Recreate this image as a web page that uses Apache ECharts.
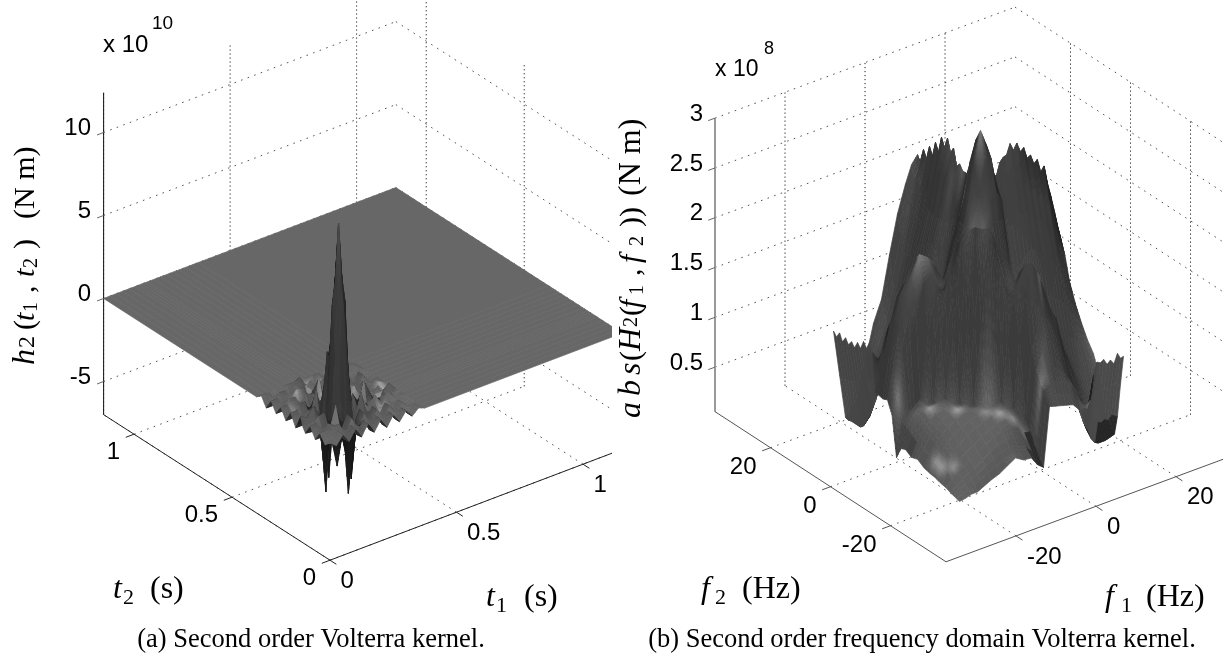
<!DOCTYPE html>
<html><head><meta charset="utf-8">
<style>html,body{margin:0;padding:0;background:#fff}#c{width:1223px;height:661px}canvas{filter:blur(.4px)}</style>
<script src="https://cdn.jsdelivr.net/npm/echarts@6/dist/echarts.min.js"></script>
</head><body><div id="c"></div>
<script>
// ---------- panel (a) values ----------
const t1Ticks=[0,0.5,1];
const t2Ticks=[0,0.5,1];
const h2Ticks=[-5,0,5,10];
const t1Grid=[0,.025,.05,.075,.1,.125,.1375,.15,.1625,.175,.2,.225,.25,.275,.3,.325,.35,.375,1.155];
const t2Grid=[0,.025,.05,.075,.1,.125,.1375,.15,.1625,.175,.2,.225,.25,.275,.3,.325,.35,.375,1.155];
const h2Values=[
[.1,-.25,.25,-.3,.3,-.3,.05,.3,.05,-.3,.3,-.3,.3,-.25,.25,-.2,.15,0,0],
[-.25,.1,.3,-.3,.35,-.35,.05,.35,.05,-.35,.35,-.3,.3,-.25,.25,-.2,.15,0,0],
[.25,.3,.1,.35,-.4,.4,0,-.5,0,.4,-.4,.35,-.3,.3,-.25,.2,-.15,0,0],
[-.3,-.3,.35,.1,-.45,.5,0,-.7,0,.5,-.45,.4,-.35,.3,-.25,.2,-.15,0,0],
[.3,.35,-.4,-.45,1,-1,-2,-4.6,-2,-1,1.2,-.7,.5,-.45,.35,-.3,.2,0,0],
[-.3,-.35,.4,.5,-1,-3,3,6.5,3.5,1,-1,.5,-.4,.4,-.3,.3,-.2,0,0],
[-.05,0,0,0,-2,3,6,8,6,3,-2,0,0,0,0,0,0,0,0],
[.5,.3,.8,.2,-4.6,6.5,8,11.3,8,6.5,-4.4,-.3,1.2,.3,-.8,.2,.5,0,0],
[.05,0,0,0,-2,3,6,8,6,3,-2,0,0,0,0,0,0,0,0],
[-.35,-.35,.4,.5,-1,3.5,3,6.5,3,1,-.8,.4,-.4,.4,-.3,.3,-.2,0,0],
[.35,.35,-.4,-.45,1.2,-1,-2,-4.4,-2,-1,1,-.7,.5,-.45,.35,-.3,.2,0,0],
[-.3,-.3,.35,.4,-.7,-.5,0,-.3,0,.4,-.7,.1,.4,-.35,.3,-.25,.15,0,0],
[.3,.3,-.3,-.35,.5,.4,.2,1.2,.2,-.4,.5,.4,.15,.4,-.4,.35,-.25,0,0],
[-.25,-.25,.3,.3,-.45,-.4,0,.3,0,.4,-.45,-.35,.4,.15,-.4,.35,-.25,0,0],
[.3,.3,-.3,-.3,.4,.35,0,-.8,0,-.35,.4,.35,-.35,-.35,.15,-.35,.25,0,0],
[-.3,-.3,.3,.3,-.35,-.35,0,.3,0,.35,-.35,-.3,.3,.3,-.35,.15,.25,0,0],
[.25,.25,-.25,-.25,.3,.3,0,.5,0,-.3,.3,.25,-.25,-.25,.25,.25,.15,0,0],
[0,0,0,0,0,0,0,0,0,0,0,0,0,0,0,0,0,0,0],
[0,0,0,0,0,0,0,0,0,0,0,0,0,0,0,0,0,0,0]];
// glints seen among the ripples: [column, row, extra grey]
const h2Glints=[[9,16,180],[11,15,170],[16,9,170],[16,10,150],[4,14,160],[13,4,150],[7,11,170],[12,10,150],[2,12,130],[14,7,130]];
// ---------- panel (b) values ----------
const f1Ticks=[-20,0,20];
const f2Ticks=[-20,0,20];
const absTicks=[0.5,1,1.5,2,2.5,3];
const f1Grid=[-21,-19.5,-18,-16.5,-15,-13,-11,-9,-7,-5,-3,-1.5,0,1.5,3,4,4.85,5.7,6.55,7.4,8.25,9.1,9.95,10.8,11.65,12.5,13.35,14.2,15.05,15.9,16.75,17.6,18.5,19.25,20];
const f2Grid=[-21,-20,-19,-18,-16.5,-15,-13,-11,-9,-7,-5,-3,-1.5,0,1.5,3,4.5,6,7,8,9,10,11,12,13,14,15,16,17,18,19,20,21];
const absValues=[
[.07,.08,.1,.1,.13,.17,.2,.25,.3,.25,.24,.15,.1,.69,.67,.66,.65,.64,.63,.62,.58,.54,.55,.55,.6,.84,.96,.94,.96,.9,.93,.88,.97,.91,.92],
[.08,.11,.13,.15,.18,.22,.26,.3,.32,.3,.27,.2,.14,.75,.75,.75,.74,.73,.72,.7,.68,.62,.6,.55,.5,.6,.66,.65,.66,.62,.64,.61,.67,.63,.62],
[.09,.13,.16,.19,.22,.27,.31,.35,.37,.35,.31,.25,.2,.8,.85,.86,.85,.84,.83,.8,.78,.72,.66,.58,.5,.42,.38,.32,.3,.28,.3,.28,.32,.3,.28],
[.1,.15,.19,.23,.26,.31,.36,.4,.42,.41,.37,.3,.26,.85,.95,1,.98,.95,.92,.88,.82,.74,.66,.55,.45,.32,.22,.12,.07,.05,.05,.05,.06,.07,.08],
[.12,.18,.23,.27,.31,.36,.41,.45,.48,.48,.45,.38,.37,.95,1.1,1.25,1.22,1.18,1.12,1.05,.95,.85,.75,.62,.5,.38,.27,.18,.12,.1,.09,.09,.1,.1,.11],
[.13,.2,.26,.31,.35,.4,.45,.49,.52,.53,.52,.48,.45,1.15,1.3,1.45,1.42,1.37,1.3,1.22,1.12,1.02,.9,.78,.66,.54,.42,.3,.22,.18,.16,.16,.18,.19,.2],
[.15,.24,.31,.36,.4,.46,.5,.53,.55,.57,.56,.56,1.25,1.7,1.96,1.87,1.8,1.69,1.58,1.46,1.38,1.31,1.15,1.01,.9,.8,.7,.6,.52,.45,.42,.4,.44,.5,.55],
[.16,.26,.34,.4,.45,.5,.54,.56,.57,.58,.6,1.2,1.64,1.77,1.9,1.78,1.75,1.65,1.55,1.42,1.35,1.25,1.18,1.08,1,.92,.84,.78,.72,.68,.66,.66,.7,.72,.75],
[.18,.28,.37,.44,.49,.53,.56,.58,.58,.56,1.2,1.87,1.6,1.6,1.78,1.6,1.55,1.48,1.42,1.38,1.34,1.3,1.27,1.2,1.16,1.1,1.05,1,.97,.93,.9,.88,.87,.86,.85],
[.22,.3,.4,.47,.52,.55,.57,.58,.55,1.3,2.15,2.05,1.75,1.65,1.6,1.55,1.5,1.45,1.42,1.42,1.42,1.42,1.42,1.4,1.38,1.35,1.32,1.3,1.27,1.22,1.18,1.12,1.06,1.02,.98],
[.2,.33,.43,.5,.54,.57,.58,.56,1.3,2.27,2.22,2.2,2.05,1.9,1.8,1.7,1.7,1.72,1.74,1.8,1.82,1.84,1.82,1.8,1.76,1.74,1.7,1.66,1.6,1.55,1.48,1.38,1.28,1.2,1.13],
[.24,.36,.47,.54,.57,.58,.6,1.2,2.15,2.2,2.1,2.2,2.4,2.5,2.4,2,2.05,2.1,2.12,2.2,2.16,2.2,2.12,2.15,2.05,2.08,2,2,1.9,1.9,1.75,1.65,1.52,1.42,1.32],
[.22,.4,.5,.54,.56,.56,1.2,1.87,2.05,2.2,2.2,2.45,2.75,2.8,2.45,2.3,2.38,2.42,2.42,2.52,2.45,2.5,2.4,2.44,2.32,2.34,2.24,2.26,2.12,2.17,1.98,1.86,1.72,1.62,1.55],
[.1,.42,.5,.55,.6,1.25,1.64,1.6,1.75,2.05,2.4,2.75,3.07,2.9,2.58,2.56,2.68,2.72,2.73,2.83,2.75,2.81,2.71,2.74,2.62,2.64,2.54,2.57,2.43,2.48,2.29,2.15,1.98,1.83,1.7],
[.5,.65,.9,1.2,1.4,1.7,1.77,1.6,1.65,1.9,2.4,2.75,2.95,2.7,2.3,2.2,2.3,2.3,2.35,2.4,2.35,2.4,2.3,2.3,2.2,2.2,2.1,2.1,2,2,1.9,1.8,1.6,1.5,1.4],
[.62,.95,1.3,1.55,1.75,1.96,1.9,1.78,1.6,1.8,2.2,2.4,2.72,2.5,2.1,1.9,1.95,2,2,2,2,2,1.95,1.9,1.85,1.8,1.75,1.7,1.65,1.6,1.5,1.4,1.3,1.2,1.1],
[.6,1,1.35,1.6,1.72,1.87,1.78,1.55,1.5,1.7,2,2.3,2.55,2.2,1.9],
[.61,1,1.3,1.52,1.6,1.7,1.6,1.45,1.35,1.45,1.85,2.2,2.55,2.2,1.9],
[.62,1,1.2,1.35,1.4,1.45,1.4,1.35,1.3,1.4,1.85,2.3,2.6,2.2,1.9],
[1,.9,.85,.98,1.12,1.38,1.35,1.34,1.42,1.82,2.16,2.42,2.55,2.2,1.9],
[1.08,.8,.7,.87,1.02,1.31,1.25,1.3,1.42,1.84,2.2,2.5,2.72,2.3,1.9],
[1,.7,.55,.75,.9,1.15,1.18,1.27,1.42,1.82,2.12,2.42,2.65,2.3,1.9],
[1.05,.66,.45,.62,.78,1.01,1.08,1.2,1.4,1.8,2.15,2.5,2.78,2.35,1.9],
[.96,.6,.32,.48,.66,.9,1,1.16,1.38,1.76,2.05,2.38,2.66,2.3,1.9],
[1,.6,.25,.35,.54,.8,.92,1.1,1.35,1.74,2.08,2.42,2.75,2.3,1.9],
[.93,.55,.15,.25,.42,.7,.84,1.05,1.32,1.7,2,2.28,2.58,2.2,1.85],
[.97,.55,.08,.15,.3,.6,.78,1,1.3,1.66,2,2.34,2.66,2.2,1.85],
[.92,.52,.05,.1,.22,.52,.72,.97,1.27,1.6,1.9,2.2,2.5,2.1,1.8],
[.97,.52,.05,.09,.18,.45,.68,.93,1.22,1.55,1.9,2.26,2.58,2.1,1.8],
[.91,.5,.05,.09,.16,.42,.66,.9,1.18,1.55,1.9,2.14,2.43,2.1,1.8],
[.98,.5,.05,.1,.16,.4,.66,.88,1.2,1.55,1.95,2.3,2.51,2.1,1.8],
[.92,.48,.04,.1,.18,.45,.72,.98,1.3,1.7,2,2.2,2.34,2.1,1.8],
[.96,.5,.05,.11,.2,.55,.89,1.1,1.52,1.9,2.17,2.34,2.42,2.2,1.8]];
// glints seen on the spectrum surface: [column, row, extra grey]
const absGlints=[[4,11,80],[6,9,90],[9,6,90],[8,7,60],[10,5,70],[11,4,50],[1,6,90],[1,7,80],[2,5,70],[1,14,70],[13,3,70],[6,15,40],[5,15,25],[16,6,50],[9,8,50]];
// dark shadowed cells: [first col, last col, first row, last row, grey]
const absShadows=[[11,11,0,3,42],[10,10,0,1,48],[12,12,0,1,62],[0,0,10,12,66]];

// ---------- view of each 3-D box: plot units are page pixels of the panel's grid ----------
const viewA={gridIndex:0,cx:330,cy:444,e1:[253,-96],e2:[-196,-126],ez:-16.6,
  r1:[0,1.155],r2:[0,1.155],rz:[-7,12.4],x1:t1Grid,x2:t2Grid,z:h2Values,
  t1:t1Ticks,t2:t2Ticks,tz:h2Ticks,axisZ:{stroke:'#111',lineWidth:1},floor:'#222',
  zLabelX:91,off2:[-14,18],off1:[10.5,21],mix:.6,gain:1,glints:h2Glints,shadows:[],
  under:(s)=>s*.6};
const viewB={gridIndex:1,cx:980.5,cy:436.5,e1:[4,-1.48],e2:[-3,-1.95],ez:-99.6,
  r1:[-37.5,37.5],r2:[-38.5,38.5],rz:[.053,3],x1:f1Grid,x2:f2Grid,z:absValues,
  t1:f1Ticks,t2:f2Ticks,tz:absTicks,axisZ:{stroke:'#999',lineWidth:2},floor:'#555',
  zLabelX:703,off2:[-14,20],off1:[11,21],mix:.2,gain:.92,glints:absGlints,shadows:absShadows,
  under:(s,mz)=>mz<.2?42:s+42};
function proj(v,a,b,z){return [v.cx+v.e1[0]*a+v.e2[0]*b, v.cy+v.e1[1]*a+v.e2[1]*b+v.ez*z];}

// lighting: each grid vertex gets a grey from its normal, colours are blended across a cell
const L=[-.2,-.28,.94], H=[-.6,-.62,.5];
function lit(n){
  const dl=Math.abs(n[0]*L[0]+n[1]*L[1]+n[2]*L[2]),dh=Math.abs(n[0]*H[0]+n[1]*H[1]+n[2]*H[2]);
  return 28+80*dl+110*Math.pow(dh,60);
}
function vertexShades(v){
  const R1=v.r1[1]-v.r1[0],R2=v.r2[1]-v.r2[0],Rz=(v.rz[1]-v.rz[0])/.8,out=[];
  for(let j=0;j<v.z.length;j++){
    const row=v.z[j],r=[];
    for(let i=0;i<row.length;i++){
      const il=Math.max(i-1,0),ir=Math.min(i+1,row.length-1);
      const a=(row[ir]-row[il])/(v.x1[ir]-v.x1[il])*R1/Rz;
      const jl=Math.max(j-1,0);let jr=Math.min(j+1,v.z.length-1);
      if(v.z[jr][i]===undefined) jr=j;
      const b=(v.z[jr][i]-v.z[jl][i])/((v.x2[jr]-v.x2[jl])||1)*R2/Rz;
      const m=Math.hypot(a,b,1);
      r.push(lit([-a/m,-b/m,1/m]));
    }
    out.push(r);
  }
  v.glints.forEach(g=>{out[g[1]][g[0]]+=g[2];});
  return out;
}
viewA.s=vertexShades(viewA);viewB.s=vertexShades(viewB);
function faceShade(v,i,j){
  const R1=v.r1[1]-v.r1[0],R2=v.r2[1]-v.r2[0],Rz=(v.rz[1]-v.rz[0])/.8;
  const pt=(c,r)=>[v.x1[c]/R1,v.x2[r]/R2,v.z[r][c]/Rz];
  const a=pt(i,j),b=pt(i+1,j),c=pt(i+1,j+1),d=pt(i,j+1);
  const p=[c[0]-a[0],c[1]-a[1],c[2]-a[2]],q=[d[0]-b[0],d[1]-b[1],d[2]-b[2]];
  const n=[p[1]*q[2]-p[2]*q[1],p[2]*q[0]-p[0]*q[2],p[0]*q[1]-p[1]*q[0]];
  const m=Math.hypot(n[0],n[1],n[2])||1;
  return lit([n[0]/m,n[1]/m,n[2]/m]);
}
function quads(v){
  const out=[];
  for(let j=0;j<v.x2.length-1;j++){
    const w=Math.min(v.z[j].length,v.z[j+1].length);
    for(let i=0;i<w-1;i++){
      const d=v.e1[1]*(v.x1[i]+v.x1[i+1])+v.e2[1]*(v.x2[j]+v.x2[j+1]);
      out.push({value:[i,j],d:d});
    }
  }
  out.sort((a,b)=>a.d-b.d);
  return out.map(o=>o.value);
}
function surfaceSeries(v){
  return {type:'custom',coordinateSystem:'cartesian2d',xAxisIndex:v.gridIndex,yAxisIndex:v.gridIndex,
    clip:true,silent:true,animation:false,progressive:0,z:3,data:quads(v),
    renderItem:function(p,api){
      const i=api.value(0),j=api.value(1);
      const C=[[i,j],[i+1,j],[i+1,j+1],[i,j+1]];
      const P=C.map(o=>api.coord(proj(v,v.x1[o[0]],v.x2[o[1]],v.z[o[1]][o[0]])));
      const S=C.map(o=>v.s[o[1]][o[0]]);
      const mz=C.reduce((t,o)=>t+v.z[o[1]][o[0]],0)/4;
      let area=0;for(let k=0;k<4;k++){const a=P[k],b=P[(k+1)%4];area+=a[0]*b[1]-b[0]*a[1];}
      const face=faceShade(v,i,j);
      const shadow=v.shadows.find(d=>i>=d[0]&&i<=d[1]&&j>=d[2]&&j<=d[3]);
      const rng=Math.max.apply(null,S)-Math.min.apply(null,S);
      const n=Math.max(1,Math.min(5,Math.ceil(rng/7)));
      const kids=[];
      const at=(u,w)=>[(1-u)*(1-w)*P[0][0]+u*(1-w)*P[1][0]+u*w*P[2][0]+(1-u)*w*P[3][0],
                       (1-u)*(1-w)*P[0][1]+u*(1-w)*P[1][1]+u*w*P[2][1]+(1-u)*w*P[3][1]];
      for(let b=0;b<n;b++)for(let a=0;a<n;a++){
        const u=(a+.5)/n,w=(b+.5)/n;
        let s=(1-v.mix)*((1-u)*(1-w)*S[0]+u*(1-w)*S[1]+u*w*S[2]+(1-u)*w*S[3])+v.mix*face;
        if(area>0) s=v.under(s,mz);
        s*=v.gain;
        if(shadow) s=shadow[4];
        s=Math.max(20,Math.min(235,Math.round(s)));
        const f='rgb('+s+','+s+','+s+')';
        kids.push({type:'polygon',shape:{points:[at(a/n,b/n),at((a+1)/n,b/n),at((a+1)/n,(b+1)/n),at(a/n,(b+1)/n)]},
          style:{fill:f,stroke:f,lineWidth:.7}});
      }
      return {type:'group',children:kids};
    }};
}
function segSeries(v,segs,z){
  return {type:'custom',coordinateSystem:'cartesian2d',xAxisIndex:v.gridIndex,yAxisIndex:v.gridIndex,
    clip:true,silent:true,animation:false,progressive:0,z:z,data:segs.map((s,k)=>[k,0]),
    renderItem:function(p,api){
      const s=segs[api.value(0)],a=api.coord(s.a),b=api.coord(s.b);
      return {type:'line',shape:{x1:a[0],y1:a[1],x2:b[0],y2:b[1]},style:Object.assign({fill:null},s.st)};
    }};
}
function gridSegs(v){
  const sl={stroke:'#555',lineWidth:1,lineDash:[1.6,5.4]},up={stroke:'#222',lineWidth:1,lineDash:[1.2,2.8]},out=[];
  const [a0,a1]=v.r1,[b0,b1]=v.r2,[z0,z1]=v.rz;
  v.tz.forEach(z=>{out.push({a:proj(v,a0,b1,z),b:proj(v,a1,b1,z),st:sl});out.push({a:proj(v,a1,b1,z),b:proj(v,a1,b0,z),st:sl});});
  v.t1.forEach(t=>{out.push({a:proj(v,t,b1,z0),b:proj(v,t,b1,z1),st:up});out.push({a:proj(v,t,b0,z0),b:proj(v,t,b1,z0),st:sl});});
  v.t2.forEach(t=>{out.push({a:proj(v,a1,t,z0),b:proj(v,a1,t,z1),st:up});out.push({a:proj(v,a0,t,z0),b:proj(v,a1,t,z0),st:sl});});
  return out;
}
function axisSegs(v){
  const [a0,a1]=v.r1,[b0,b1]=v.r2,[z0,z1]=v.rz,fl={stroke:v.floor,lineWidth:1},tk={stroke:'#666',lineWidth:1},out=[];
  out.push({a:proj(v,a0,b1,z0),b:proj(v,a0,b1,z1),st:v.axisZ});
  out.push({a:proj(v,a0,b1,z0),b:proj(v,a0,b0,z0),st:fl});
  out.push({a:proj(v,a0,b0,z0),b:proj(v,a1,b0,z0),st:fl});
  const k1=(a1-a0)*.028,k2=(b1-b0)*.028;
  v.tz.forEach(z=>out.push({a:proj(v,a0,b1,z),b:proj(v,a0-k1*.8,b1,z),st:tk}));
  v.t2.forEach(t=>out.push({a:proj(v,a0,t,z0),b:proj(v,a0-k1,t,z0),st:fl}));
  v.t1.forEach(t=>out.push({a:proj(v,t,b0,z0),b:proj(v,t,b0-k2,z0),st:fl}));
  return out;
}
function tickLabelSeries(v){
  const [a0,a1]=v.r1,[b0,b1]=v.r2,z0=v.rz[0],items=[];
  v.tz.forEach(z=>{const p=proj(v,a0,b1,z);items.push({p:[v.zLabelX,p[1]-4],t:z,al:'right'});});
  v.t2.forEach(t=>{const p=proj(v,a0,t,z0);items.push({p:[p[0]+v.off2[0],p[1]+v.off2[1]],t:t,al:'right'});});
  v.t1.forEach(t=>{const p=proj(v,t,b0,z0);items.push({p:[p[0]+v.off1[0],p[1]+v.off1[1]],t:t,al:'left'});});
  return {type:'custom',coordinateSystem:'cartesian2d',xAxisIndex:v.gridIndex,yAxisIndex:v.gridIndex,
    clip:false,silent:true,animation:false,progressive:0,z:6,data:items.map((s,k)=>[k,0]),
    renderItem:function(p,api){
      const s=items[api.value(0)],c=api.coord(s.p);
      return {type:'text',style:{text:String(s.t),x:c[0],y:c[1],align:s.al,verticalAlign:'middle',
        font:'24px "Liberation Sans"',fill:'#000'}};
    }};
}
// ---------- mathematical labels as real text ----------
const SER='"Liberation Serif"';
function piece(t,dx,size,italic,dy){return {type:'text',x:dx,y:dy||0,silent:true,
  style:{text:t,font:(italic?'italic ':'')+size+'px '+SER,fill:'#000',align:'left',verticalAlign:'middle'}};}
function label(x,y,rot,kids){return {type:'group',x:x,y:y,rotation:rot,silent:true,children:kids};}
const sansText=(t,x,y,size)=>({type:'text',x:x,y:y,silent:true,style:{text:t,font:size+'px "Liberation Sans"',fill:'#000',align:'left',verticalAlign:'middle'}});
const capText=(t,x)=>({type:'text',x:x,y:640,silent:true,style:{text:t,font:'26.5px '+SER,fill:'#000',align:'center',verticalAlign:'middle'}});
const up=Math.PI/2;
const graphicEls=[
  sansText('x 10',103,45,24),sansText('10',152,24,19),
  sansText('x 10',715,70,23),sansText('8',764,49,18),
  capText('(a) Second order Volterra kernel.',311),
  capText('(b) Second order frequency domain Volterra kernel.',922),
  label(113,590,0,[piece('t',0,32,1),piece('2',10,22,0,8),piece('(s)',37,32,0)]),
  label(486,598,0,[piece('t',0,32,1),piece('1',10,22,0,8),piece('(s)',38,32,0)]),
  label(701,590,0,[piece('f',0,32,1),piece('2',14,22,0,8),piece('(Hz)',41,32,0)]),
  label(1105,598,0,[piece('f',0,32,1),piece('1',16,22,0,8),piece('(Hz)',41,32,0)]),
  label(26,365,up,[piece('h',0,32,1),piece('2',17,24,0,2),piece('(',35,30,0),piece('t',44,30,1),piece('1',53,20,0,6),
    piece(',',72,30,0),piece('t',88,30,1),piece('2',97,20,0,6),piece(')',116,30,0),piece('(N m)',146,30,0)]),
  label(632,418,up,[piece('a',0,32,1),piece('b',22,32,1),piece('s',43,32,1),piece('(',57,30,0),piece('H',67,32,1),piece('2',91,20,0),
    piece('(',102,30,0),piece('f',110,30,1),piece('1',123,20,0,6),piece(',',142,30,0),piece('f',155,30,1),piece('2',172,20,0,6),
    piece('))',191,30,0),piece('(N m)',222,32,0)])
];
const option={animation:false,backgroundColor:'#fff',
  grid:[{left:0,top:0,width:612,height:661,show:false},{left:612,top:0,width:611,height:661,show:false}],
  xAxis:[{type:'value',gridIndex:0,min:0,max:612,show:false},{type:'value',gridIndex:1,min:612,max:1223,show:false}],
  yAxis:[{type:'value',gridIndex:0,min:0,max:661,inverse:true,show:false},{type:'value',gridIndex:1,min:0,max:661,inverse:true,show:false}],
  graphic:{elements:graphicEls},
  series:[segSeries(viewA,gridSegs(viewA),1),segSeries(viewA,axisSegs(viewA),2),surfaceSeries(viewA),tickLabelSeries(viewA),
          segSeries(viewB,gridSegs(viewB),1),segSeries(viewB,axisSegs(viewB),2),surfaceSeries(viewB),tickLabelSeries(viewB)]
};
echarts.init(document.getElementById('c'),null,{renderer:'canvas'}).setOption(option);
</script></body></html>
